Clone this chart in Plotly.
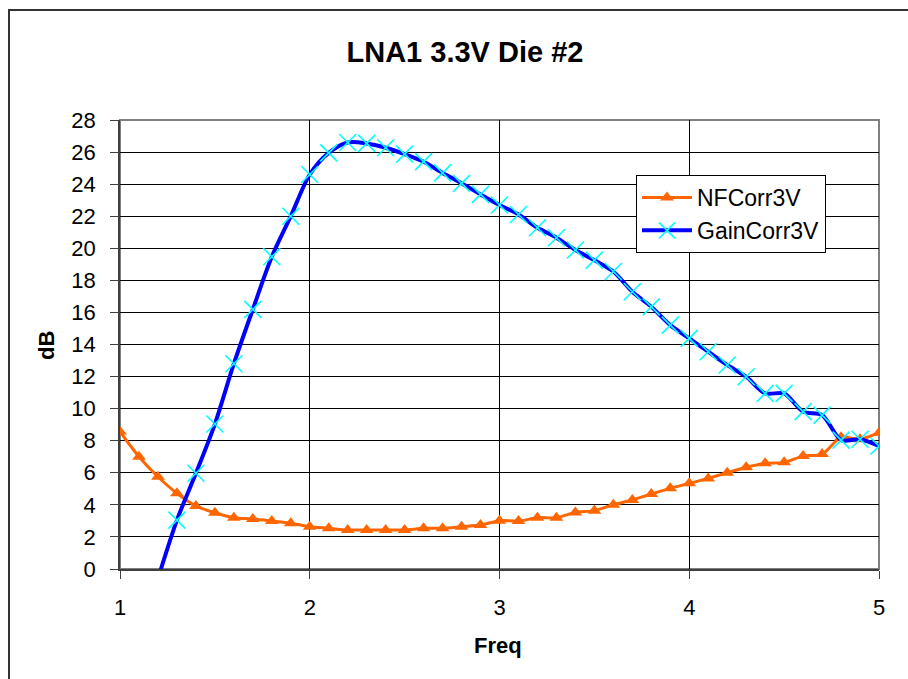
import plotly.graph_objects as go

freq_nf = [1.0, 1.1, 1.2, 1.3, 1.4, 1.5, 1.6, 1.7, 1.8, 1.9, 2.0, 2.1, 2.2, 2.3, 2.4, 2.5,
           2.6, 2.7, 2.8, 2.9, 3.0, 3.1, 3.2, 3.3, 3.4, 3.5, 3.6, 3.7, 3.8, 3.9, 4.0,
           4.1, 4.2, 4.3, 4.4, 4.5, 4.6, 4.7, 4.8, 4.9, 5.0]
nf_corr_3v = [8.56, 7.0, 5.75, 4.72, 3.93, 3.51, 3.2, 3.12, 2.99, 2.85, 2.64, 2.54, 2.43, 2.43,
              2.43, 2.43, 2.54, 2.54, 2.64, 2.74, 3.01, 2.99, 3.2, 3.2, 3.53, 3.64, 4.01, 4.3,
              4.68, 5.03, 5.34, 5.65, 6.0, 6.34, 6.59, 6.65, 7.04, 7.17, 8.21, 8.09, 8.5]

freq_gain = [1.2, 1.3, 1.4, 1.5, 1.6, 1.7, 1.8, 1.9, 2.0, 2.1, 2.2, 2.3, 2.4, 2.5, 2.6, 2.7,
             2.8, 2.9, 3.0, 3.1, 3.2, 3.3, 3.4, 3.5, 3.6, 3.7, 3.8, 3.9, 4.0, 4.1, 4.2, 4.3,
             4.4, 4.5, 4.6, 4.7, 4.8, 4.9, 5.0]
gain_corr_3v = [-0.6, 3.05, 5.97, 9.04, 12.8, 16.19, 19.47, 22.0, 24.6, 25.95, 26.6, 26.54,
                26.27, 25.87, 25.4, 24.7, 24.05, 23.36, 22.7, 22.11, 21.28, 20.66, 19.89,
                19.26, 18.55, 17.29, 16.35, 15.21, 14.38, 13.55, 12.72, 11.99, 10.95, 10.95,
                9.81, 9.6, 8.04, 8.09, 7.67]

x_ticks = [1, 2, 3, 4, 5]
y_ticks = list(range(0, 29, 2))

FONT = "Liberation Sans, Arial, sans-serif"

fig = go.Figure()
fig.add_trace(go.Scatter(
    x=freq_nf, y=nf_corr_3v, name="NFCorr3V", mode="lines+markers",
    line=dict(color="#FF6600", width=3, shape="spline", smoothing=0.8),
    marker=dict(symbol="triangle-up", size=12, color="#FF6600"),
))
fig.add_trace(go.Scatter(
    x=freq_gain, y=gain_corr_3v, name="GainCorr3V", mode="lines+markers",
    line=dict(color="#0000FF", width=4, shape="spline", smoothing=0.8),
    marker=dict(symbol="x-thin", size=17, color="#00FFFF",
                line=dict(color="#00FFFF", width=1.6)),
))

L, R, T, B = 120, 879, 120, 569
W, H = 908, 679

def px(x):
    return (x - L) / (R - L)

def py(y):
    return (B - y) / (B - T)

fig.update_layout(
    width=W, height=H,
    margin=dict(l=L, r=W - R, t=T, b=H - B, pad=0),
    paper_bgcolor="white", plot_bgcolor="white",
    font=dict(family=FONT, color="black", size=22),
    title=dict(text="<b>LNA1 3.3V Die #2</b>", x=465 / W, xref="container",
               xanchor="center", y=1 - 52 / H, yref="container", yanchor="middle",
               font=dict(size=29, family=FONT, color="black")),
    showlegend=True,
    legend=dict(x=px(636), y=py(175), xanchor="left", yanchor="top",
                bgcolor="white", bordercolor="black", borderwidth=1,
                font=dict(size=23, family=FONT, color="black"),
                tracegroupgap=0, itemwidth=50),
    xaxis=dict(range=[1, 5], tickvals=x_ticks, ticktext=[str(v) for v in x_ticks],
               showgrid=True, gridcolor="black", gridwidth=1,
               showline=True, linecolor="#404040", linewidth=1.5,
               ticks="outside", ticklen=8, tickcolor="#404040",
               tickfont=dict(size=22, family=FONT), ticklabelstandoff=10,
               zeroline=False),
    yaxis=dict(range=[0, 28], tickvals=y_ticks, ticktext=[str(v) for v in y_ticks],
               showgrid=True, gridcolor="black", gridwidth=1,
               showline=True, linecolor="#404040", linewidth=1.5,
               ticks="outside", ticklen=8, tickcolor="#404040",
               tickfont=dict(size=22, family=FONT), ticklabelstandoff=10,
               zeroline=False),
    shapes=[
        dict(type="rect", xref="paper", yref="paper", x0=0, x1=1, y0=0, y1=1,
             line=dict(color="#808080", width=2), layer="below"),
        dict(type="rect", xref="paper", yref="paper", x0=px(9), x1=px(930),
             y0=py(700), y1=py(10), line=dict(color="#333333", width=2), layer="below"),
    ],
    annotations=[
        dict(text="<b>Freq</b>", xref="paper", yref="paper", x=px(498), y=py(645),
             showarrow=False, xanchor="center", yanchor="middle",
             font=dict(size=22, family=FONT, color="black")),
        dict(text="<b>dB</b>", xref="paper", yref="paper", x=px(46), y=py(346),
             showarrow=False, xanchor="center", yanchor="middle", textangle=-90,
             font=dict(size=22, family=FONT, color="black")),
    ],
)

fig.write_html("out.html")
